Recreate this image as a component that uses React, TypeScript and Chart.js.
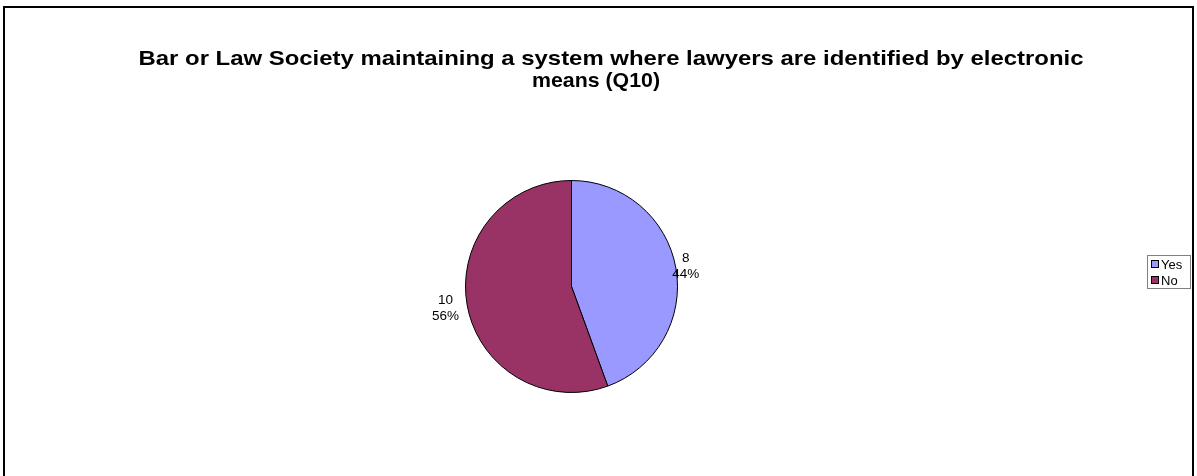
import React, { useEffect, useRef } from "react";
import { Chart, registerables } from "chart.js";

Chart.register(...registerables);

const categories: string[] = ["Yes", "No"];
const counts: number[] = [8, 10];
const sliceColors: string[] = ["#9999FF", "#993366"];
const titleLines: string[] = [
  "Bar or Law Society maintaining a system where lawyers are identified by electronic",
  "means (Q10)",
];

const FONT = "'Liberation Sans', Arial, Helvetica, sans-serif";
const labelOffsets: number[] = [10, 22];

function drawFitted(ctx: any, text: string, cx: number, cy: number, width: number) {
  const w = ctx.measureText(text).width;
  const sx = width / w;
  ctx.save();
  ctx.translate(cx, cy);
  ctx.scale(sx, 1);
  ctx.fillText(text, 0, 0);
  ctx.restore();
}

const framePlugin = {
  id: "frame",
  beforeDraw(chart: any) {
    const ctx = chart.ctx;
    ctx.save();
    ctx.fillStyle = "#ffffff";
    ctx.fillRect(0, 0, chart.width, chart.height);
    ctx.strokeStyle = "#000000";
    ctx.lineWidth = 2;
    ctx.strokeRect(4, 7, 1189, 480);
    ctx.restore();
  },
  afterDraw(chart: any) {
    const ctx = chart.ctx;
    ctx.save();
    // title
    ctx.fillStyle = "#000000";
    ctx.font = `bold 21px ${FONT}`;
    ctx.textAlign = "center";
    ctx.textBaseline = "middle";
    drawFitted(ctx, titleLines[0], 611, 59, 945);
    drawFitted(ctx, titleLines[1], 596, 81, 128);

    // data labels
    const meta = chart.getDatasetMeta(0);
    const total = counts.reduce((a, b) => a + b, 0);
    ctx.font = `13.5px ${FONT}`;
    meta.data.forEach((arc: any, i: number) => {
      const p = arc.getProps(["x", "y", "startAngle", "endAngle", "outerRadius"], true);
      const mid = (p.startAngle + p.endAngle) / 2;
      const d = p.outerRadius + labelOffsets[i];
      const cx = p.x + Math.cos(mid) * d;
      const cy = p.y + Math.sin(mid) * d;
      const pct = Math.round((counts[i] / total) * 100) + "%";
      ctx.fillText(String(counts[i]), cx, cy - 8);
      ctx.fillText(pct, cx, cy + 8);
    });

    // legend
    const lx = 1147, ly = 255, lw = 43, lh = 33;
    ctx.strokeStyle = "#808080";
    ctx.lineWidth = 1;
    ctx.strokeRect(lx + 0.5, ly + 0.5, lw, lh);
    ctx.textAlign = "left";
    ctx.font = `13px ${FONT}`;
    categories.forEach((c, i) => {
      const rowY = ly + 9 + i * 16;
      ctx.fillStyle = sliceColors[i];
      ctx.fillRect(lx + 4, rowY - 4, 8, 8);
      ctx.strokeStyle = "#000000";
      ctx.strokeRect(lx + 4.5, rowY - 3.5, 7, 7);
      ctx.fillStyle = "#000000";
      ctx.fillText(c, lx + 14, rowY + 1);
    });
    ctx.restore();
  },
};

export default function App() {
  const ref = useRef<HTMLCanvasElement>(null);
  useEffect(() => {
    document.body.style.margin = "0";
    const canvas = ref.current!;
    const chart = new Chart(canvas, {
      type: "pie",
      data: {
        labels: categories,
        datasets: [
          {
            data: counts,
            backgroundColor: sliceColors,
            borderColor: "#000000",
            borderWidth: 1,
          },
        ],
      },
      options: {
        animation: false,
        responsive: false,
        maintainAspectRatio: false,
        layout: { padding: { left: 465, right: 1197 - 678, top: 180, bottom: 476 - 393 } },
        plugins: {
          legend: { display: false },
          title: { display: false },
          tooltip: { enabled: false },
        },
      },
      plugins: [framePlugin],
    });
    return () => chart.destroy();
  }, []);
  return (
    <div style={{ width: 1197, height: 476 }}>
      <canvas ref={ref} width={1197} height={476} style={{ display: "block", width: 1197, height: 476 }} />
    </div>
  );
}
